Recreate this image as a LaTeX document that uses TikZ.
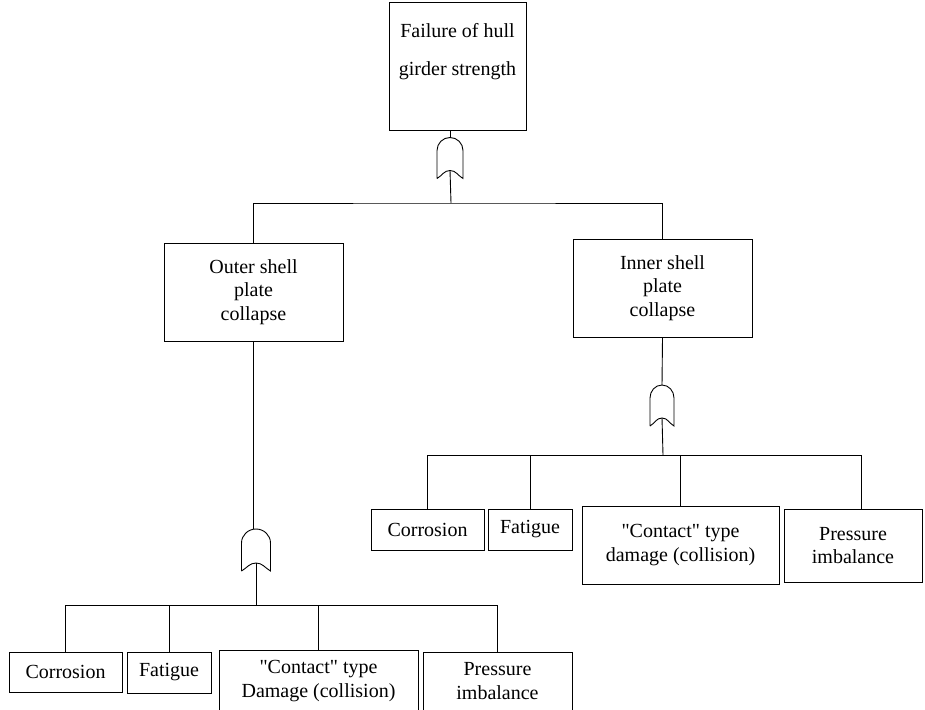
\documentclass[tikz,border=0pt]{standalone}
\usepackage{fontspec}
\setmainfont{Liberation Serif}
\usetikzlibrary{calc}
\tikzset{
    event/.style={rectangle, draw, line width=0.9pt, inner sep=0pt, align=center, font=\fontsize{20}{23.5}\selectfont},
    gate/.style={inner sep=0pt, outer sep=0pt, minimum width=26pt, minimum height=41pt},
    link/.style={draw, line width=0.9pt}
}
\newcommand{\orgate}[1]{%
    \draw[link] (#1.south west) -- ([yshift=28pt]#1.south west)
        to[out=90,in=180] (#1.north)
        to[out=0,in=90] ([yshift=28pt]#1.south east)
        -- (#1.south east)
        to[out=150,in=0] ([yshift=8pt]#1.south)
        to[out=180,in=30] (#1.south west);
    \coordinate (#1-out) at ([yshift=8pt]#1.south);}

\begin{document}
\begin{tikzpicture}[x=1pt, y=1pt]
    \clip (0,0) rectangle (925,-709);
    % Nodes
    \node[event, minimum width=137pt, minimum height=128pt, text depth=33pt] (top) at (457.5,-66) {Failure of hull\\[14pt]girder strength};
    \node[event, minimum width=179pt, minimum height=98pt] (outer) at (253.5,-292) {Outer shell\\plate\\collapse};
    \node[event, minimum width=179pt, minimum height=98pt] (inner) at (662.5,-288) {Inner shell\\plate\\collapse};

    \node[gate] (g1) at (450,-158) {};
    \node[gate, minimum width=24pt] (g2) at (662,-405.5) {};
    \node[gate, minimum width=29pt, minimum height=42pt] (g3) at (256,-550) {};

    \node[event, minimum width=113pt, minimum height=41pt] (corR) at (427.5,-529.5) {Corrosion};
    \node[event, minimum width=84pt, minimum height=41pt] (fatR) at (530,-529.5) {Fatigue};
    \node[event, minimum width=197pt, minimum height=78pt] (conR) at (680.5,-545) {\textquotedbl Contact\textquotedbl{} type\\damage (collision)};
    \node[event, minimum width=138pt, minimum height=73pt] (preR) at (853,-545.5) {Pressure\\imbalance};

    \node[event, minimum width=113pt, minimum height=40pt] (corL) at (65.5,-672) {Corrosion};
    \node[event, minimum width=84pt, minimum height=41pt] (fatL) at (169,-672.5) {Fatigue};
    \node[event, minimum width=199pt, minimum height=62pt] (conL) at (318.5,-681) {\textquotedbl Contact\textquotedbl{} type\\Damage (collision)};
    \node[event, minimum width=149pt, minimum height=58pt] (preL) at (497.5,-681) {Pressure\\imbalance};

    \coordinate (b1) at (451,-203);
    \coordinate (b2) at (663,-455);
    \coordinate (b3) at (256,-605);
    \coordinate (preRin) at ([xshift=8pt]preR.north);

    % gates
    \orgate{g1}
    \orgate{g2}
    \orgate{g3}

    % edges
    \draw[link] (g1.north |- top.south) -- (g1.north);
    \draw[link] (g1-out) -- (b1);
    \draw[link] (outer.north) |- (b1) -| (inner.north);
    \draw[link] (inner.south) -- (g2.north);
    \draw[link] (g2-out) -- (b2);
    \draw[link] (b2 -| corR.north) -- (b2 -| preRin);
    \foreach \n in {corR,fatR,conR,preRin}
        \draw[link] (b2 -| \n) -- (\n);
    \draw[link] (outer.south) -- (outer.south |- g3.north);
    \draw[link] (g3-out) -- (b3);
    \draw[link] (b3 -| corL.north) -- (b3 -| preL.north);
    \foreach \n in {corL,fatL,conL,preL}
        \draw[link] (b3 -| \n.north) -- (\n.north);
\end{tikzpicture}
\end{document}
